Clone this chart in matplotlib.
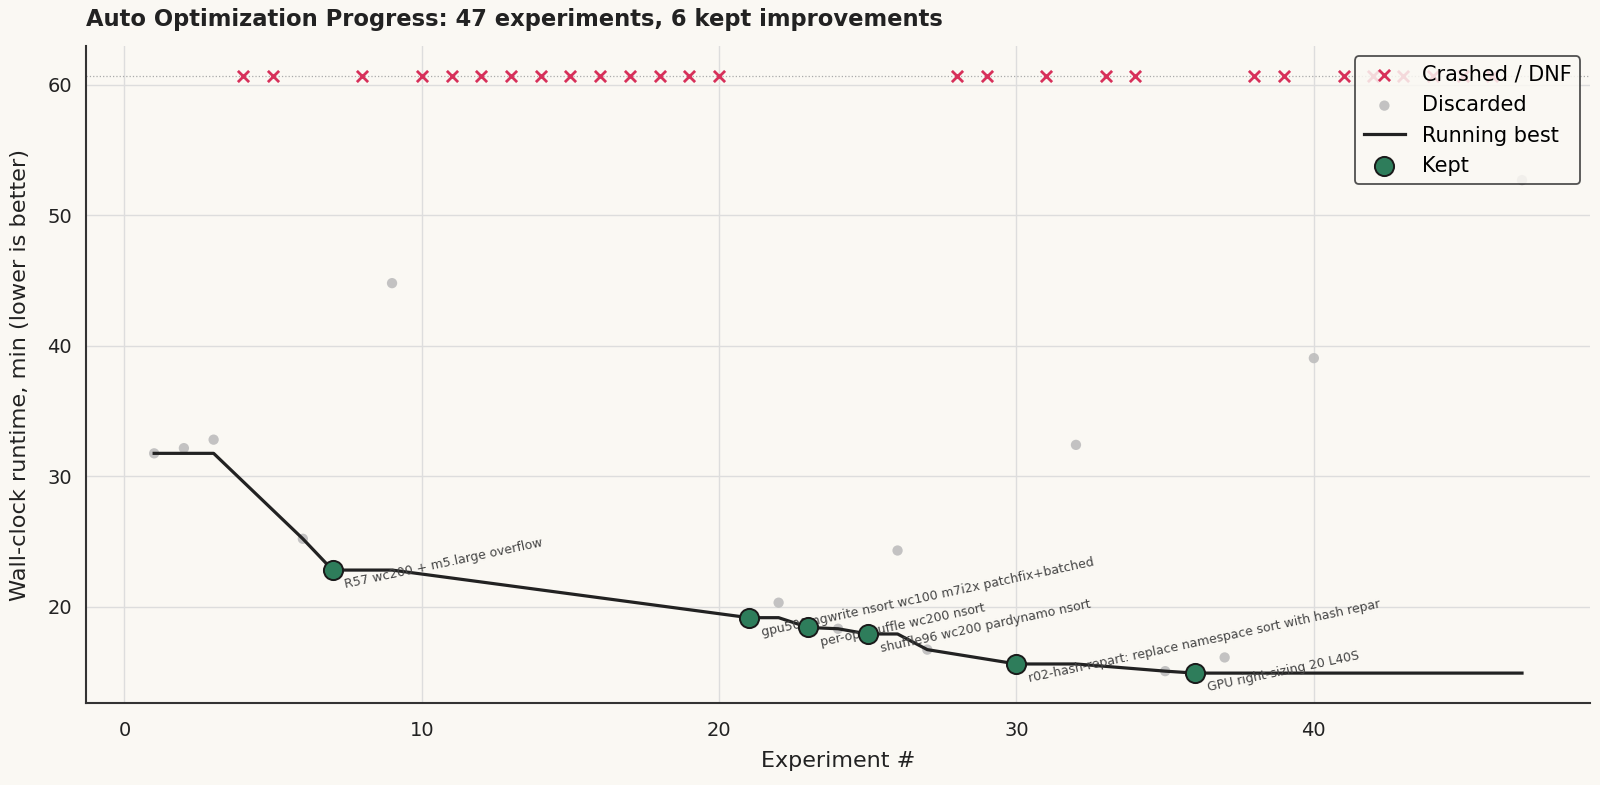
import numpy as np
import matplotlib
matplotlib.use("Agg")
import matplotlib.pyplot as plt

# ---- data ----
kept_x = [7, 21, 23, 25, 30, 36]
kept_y = [22.8, 19.15, 18.4, 17.9, 15.6, 14.9]
kept_labels = [
    "R57 wc200 + m5.large overflow",
    "gpu500 ngwrite nsort wc100 m7i2x patchfix+batched",
    "per-op shuffle wc200 nsort",
    "shuffle96 wc200 pardynamo nsort",
    "r02-hash-repart: replace namespace sort with hash repar",
    "GPU right-sizing 20 L40S",
]
disc_x = [1, 2, 3, 6, 9, 22, 24, 26, 27, 32, 35, 37, 40, 47]
disc_y = [31.75, 32.15, 32.8, 25.2, 44.8, 20.3, 18.3, 24.3, 16.7, 32.4, 15.05, 16.1, 39.05, 52.7]
crash_x = [4, 5, 8, 10, 11, 12, 13, 14, 15, 16, 17, 18, 19, 20,
           28, 29, 31, 33, 34, 38, 39, 41, 42, 43, 44, 45, 46]
CRASH_Y = 60.7

TITLE = "Auto Optimization Progress: 47 experiments, 6 kept improvements"
XLABEL = "Experiment #"
YLABEL = "Wall-clock runtime, min (lower is better)"

# running best over completed experiments
done = sorted(list(zip(kept_x, kept_y)) + list(zip(disc_x, disc_y)))
run_x = [d[0] for d in done]
run_y = np.minimum.accumulate([d[1] for d in done])

BG = "#faf8f3"
plt.rcParams['font.family'] = ['DejaVu Sans']

fig = plt.figure(figsize=(16, 7.85), dpi=100, facecolor=BG)
ax = fig.add_axes([0.0536, 0.1045, 0.9404, 0.837])
ax.set_facecolor(BG)

ax.axhline(CRASH_Y, color="#aaaaaa", linestyle=":", linewidth=0.9, zorder=1)
ax.scatter(crash_x, [CRASH_Y] * len(crash_x), marker="x", s=65, linewidths=2.0,
           color="#d7305a", label="Crashed / DNF", zorder=3)
ax.scatter(disc_x, disc_y, s=55, color="#bdbdbd", alpha=0.9, edgecolors="none",
           label="Discarded", zorder=2)
ax.plot(run_x, run_y, color="#222222", linewidth=2.3, label="Running best", zorder=4)
ax.scatter(kept_x, kept_y, s=190, color="#2e7d5b", edgecolors="#1a1a1a",
           linewidths=1.4, label="Kept", zorder=6)

for x, y, t in zip(kept_x, kept_y, kept_labels):
    ax.annotate(t, (x, y), xytext=(8, -6), textcoords="offset points",
                ha="left", va="top", rotation=12, rotation_mode="anchor",
                fontsize=9, color="#444444", zorder=5)

ax.grid(True, color="#dddddd", linewidth=1.0, zorder=0)
ax.set_axisbelow(True)
for s in ["top", "right"]:
    ax.spines[s].set_visible(False)
for s in ["left", "bottom"]:
    ax.spines[s].set_color("#333333")
    ax.spines[s].set_linewidth(1.5)
ax.tick_params(length=0, labelsize=14, colors="#222222")
ax.tick_params(axis="x", pad=13)
ax.tick_params(axis="y", pad=10)
ax.set_xticks([0, 10, 20, 30, 40])
ax.set_yticks([20, 30, 40, 50, 60])

ax.set_xlabel(XLABEL, fontsize=16, color="#222222", labelpad=8)
ax.set_ylabel(YLABEL, fontsize=16.2, color="#222222", labelpad=12)
ax.set_title(TITLE, loc="left", fontsize=16.3, fontweight="bold", color="#222222", pad=14)

leg = ax.legend(loc="upper right", fontsize=15, frameon=True, facecolor=BG,
                edgecolor="#333333", framealpha=0.85, borderaxespad=0.5)
leg.get_frame().set_linewidth(1.3)

fig.savefig("out.png", dpi=100, facecolor=BG)
